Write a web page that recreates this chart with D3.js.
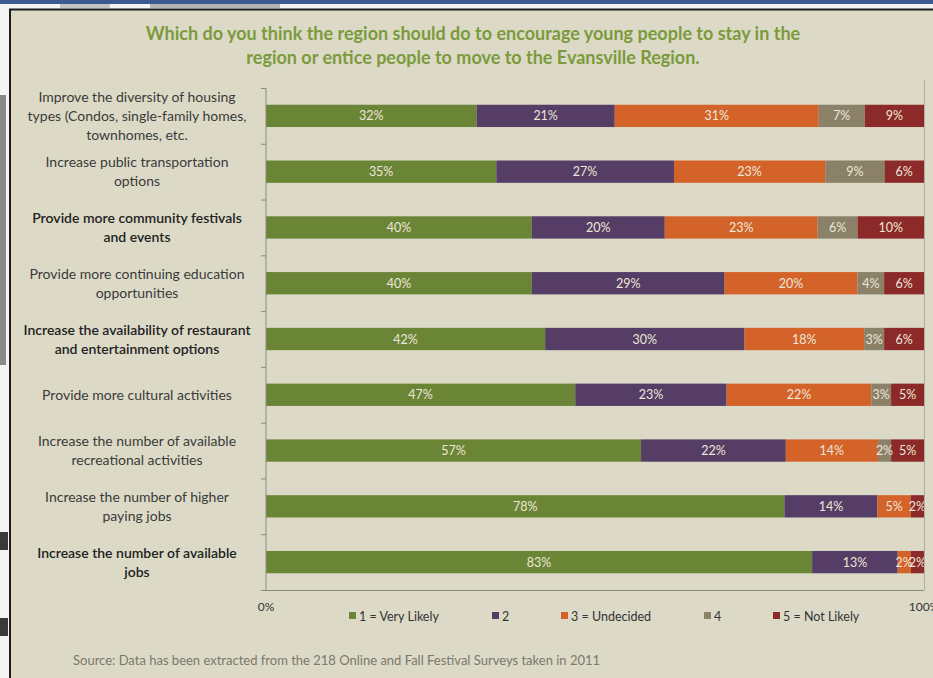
<!DOCTYPE html>
<html><head><meta charset="utf-8">
<script src="https://cdn.jsdelivr.net/npm/d3@7"></script>
<style>
html,body{margin:0;padding:0;background:#fff;}
svg{display:block;}
text{font-family:Lato,"Open Sans",sans-serif;}
</style></head>
<body>
<svg id="chart" width="933" height="678"></svg>
<script>
// ---------- data ----------
const categories = [
  ["Improve the diversity of housing","types (Condos, single-family homes,","townhomes, etc."],
  ["Increase public transportation","options"],
  ["Provide more community festivals","and events"],
  ["Provide more continuing education","opportunities"],
  ["Increase the availability of restaurant","and entertainment options"],
  ["Provide more cultural activities"],
  ["Increase the number of available","recreational activities"],
  ["Increase the number of higher","paying jobs"],
  ["Increase the number of available","jobs"]
];
const boldRows = [2, 4, 8];
const seriesNames = ["1 = Very Likely", "2", "3 = Undecided", "4", "5 = Not Likely"];
const veryLikely = [32, 35, 40, 40, 42, 47, 57, 78, 83];
const likely2    = [21, 27, 20, 29, 30, 23, 22, 14, 13];
const undecided  = [31, 23, 23, 20, 18, 22, 14, 5, 2];
const likely4    = [7, 9, 6, 4, 3, 3, 2, 0, 0];
const notLikely  = [9, 6, 10, 6, 6, 5, 5, 2, 2];
const xTickLabels = ["0%", "100%"];
const titleLines = ["Which do you think the region should do to encourage young people to stay in the",
                    "region or entice people to move to the Evansville Region."];
const sourceText = "Source: Data has been extracted from the 218 Online and Fall Festival Surveys taken in 2011";

const colors = ["#6b8536", "#563d66", "#d4632a", "#8b8169", "#8c2a29"];
const seriesValues = [veryLikely, likely2, undecided, likely4, notLikely];

const table = categories.map((c, i) => {
  const row = {idx: i};
  seriesNames.forEach((s, k) => row[s] = seriesValues[k][i]);
  return row;
});

const svg = d3.select("#chart");

// ---------- frame / background ----------
svg.append("rect").attr("x", 0).attr("y", 0).attr("width", 933).attr("height", 678).attr("fill", "#f4f4f2");
svg.append("rect").attr("x", 0).attr("y", 0).attr("width", 933).attr("height", 4).attr("fill", "#3b5b8e");
svg.append("rect").attr("x", 60).attr("y", 4).attr("width", 50).attr("height", 4).attr("fill", "#c4c4c4");
svg.append("rect").attr("x", 150).attr("y", 4).attr("width", 130).attr("height", 4).attr("fill", "#b4b4b4");
svg.append("rect").attr("x", 0).attr("y", 95).attr("width", 6).attr("height", 270).attr("fill", "#8a8a8a");
svg.append("rect").attr("x", 0).attr("y", 532).attr("width", 8).attr("height", 18).attr("fill", "#3a3a3a");
svg.append("rect").attr("x", 0).attr("y", 618).attr("width", 8).attr("height", 18).attr("fill", "#3a3a3a");
svg.append("rect").attr("x", 10).attr("y", 10).attr("width", 923).attr("height", 668).attr("fill", "#dcdac7");
svg.append("line").attr("x1", 9).attr("x2", 933).attr("y1", 9.5).attr("y2", 9.5).attr("stroke", "#1c1c1c").attr("stroke-width", 2);
svg.append("line").attr("x1", 10).attr("x2", 10).attr("y1", 9).attr("y2", 678).attr("stroke", "#1c1c1c").attr("stroke-width", 2);

// ---------- title ----------
svg.append("g").selectAll("text").data(titleLines).join("text")
  .attr("x", 473).attr("y", (d, i) => 40 + i * 24)
  .attr("text-anchor", "middle")
  .attr("font-size", 18).attr("font-weight", "bold")
  .attr("fill", "#7b9a3c")
  .text(d => d);

// ---------- scales ----------
const plot = {left: 266, right: 924, top: 88, bottom: 590};
const x = d3.scaleLinear().domain([0, 1]).range([plot.left, plot.right]);
const y = d3.scaleBand().domain(categories.map((c, i) => i)).range([plot.top, plot.bottom]).paddingInner(0.6).paddingOuter(0.3);
const yTicks = d3.scaleBand().domain(categories.map((c, i) => i)).range([plot.top, plot.bottom]);

const stack = d3.stack().keys(seriesNames).offset(d3.stackOffsetExpand);
const stacked = stack(table);

// clip
svg.append("defs").append("clipPath").attr("id", "plotclip")
  .append("rect").attr("x", plot.left).attr("y", plot.top).attr("width", plot.right - plot.left).attr("height", plot.bottom - plot.top);

// bars
const g = svg.append("g");
g.selectAll("g.series").data(stacked).join("g").attr("class", "series")
  .attr("fill", (d, k) => colors[k])
  .selectAll("rect").data(d => d).join("rect")
  .attr("x", d => x(d[0]))
  .attr("y", d => y(d.data.idx))
  .attr("width", d => Math.max(0, x(d[1]) - x(d[0])))
  .attr("height", y.bandwidth());

// value labels
const lg = svg.append("g").attr("clip-path", "url(#plotclip)");
stacked.forEach((s, k) => {
  lg.selectAll(null).data(s.filter(d => d.data[s.key] > 0)).join("text")
    .attr("x", d => (x(d[0]) + x(d[1])) / 2)
    .attr("y", d => y(d.data.idx) + y.bandwidth() / 2 + 4.5)
    .attr("text-anchor", "middle")
    .attr("font-size", 12.5)
    .attr("fill", "#ece7d8")
    .text(d => d.data[s.key] + "%");
});

// axes
const axisColor = "#8c8a7c";
svg.append("line").attr("x1", plot.left).attr("x2", plot.left).attr("y1", plot.top).attr("y2", plot.bottom).attr("stroke", axisColor);
svg.append("line").attr("x1", plot.left - 5).attr("x2", plot.right).attr("y1", plot.bottom + 0.5).attr("y2", plot.bottom + 0.5).attr("stroke", axisColor);
svg.append("line").attr("x1", plot.right + 0.5).attr("x2", plot.right + 0.5).attr("y1", plot.top - 8).attr("y2", plot.bottom).attr("stroke", "#b0ad9c");
const tickYs = categories.map((c, i) => yTicks(i)).concat([plot.bottom]);
svg.append("g").selectAll("line").data(tickYs).join("line")
  .attr("x1", plot.left - 5).attr("x2", plot.left)
  .attr("y1", d => d + 0.5).attr("y2", d => d + 0.5).attr("stroke", axisColor);

// x tick labels
svg.append("g").selectAll("text").data(xTickLabels).join("text")
  .attr("x", (d, i) => x(i))
  .attr("y", 611)
  .attr("text-anchor", "middle")
  .attr("font-size", 12)
  .attr("fill", "#333")
  .text(d => d);

// category labels
const cl = svg.append("g");
categories.forEach((lines, i) => {
  const cy = y(i) + y.bandwidth() / 2;
  const lh = 19;
  const y0 = cy - (lines.length - 1) * lh / 2 + 5;
  cl.selectAll(null).data(lines).join("text")
    .attr("x", 137)
    .attr("y", (d, j) => y0 + j * lh)
    .attr("text-anchor", "middle")
    .attr("font-size", 14)
    .attr("font-weight", boldRows.includes(i) ? 600 : 400)
    .attr("fill", boldRows.includes(i) ? "#222" : "#3a3a3a")
    .text(d => d);
});

// legend
const legendX = [349, 492, 561, 704, 773];
const leg = svg.append("g").selectAll("g").data(seriesNames).join("g")
  .attr("transform", (d, i) => `translate(${legendX[i]},616)`);
leg.append("rect").attr("x", 0).attr("y", -4).attr("width", 7).attr("height", 7).attr("fill", (d, i) => colors[i]);
leg.append("text").attr("x", 10).attr("y", 4.5).attr("font-size", 12.5).attr("fill", "#333").text(d => d);

// source
svg.append("text").attr("x", 73).attr("y", 665).attr("font-size", 13).attr("fill", "#7a786c").text(sourceText);
</script>
</body></html>
